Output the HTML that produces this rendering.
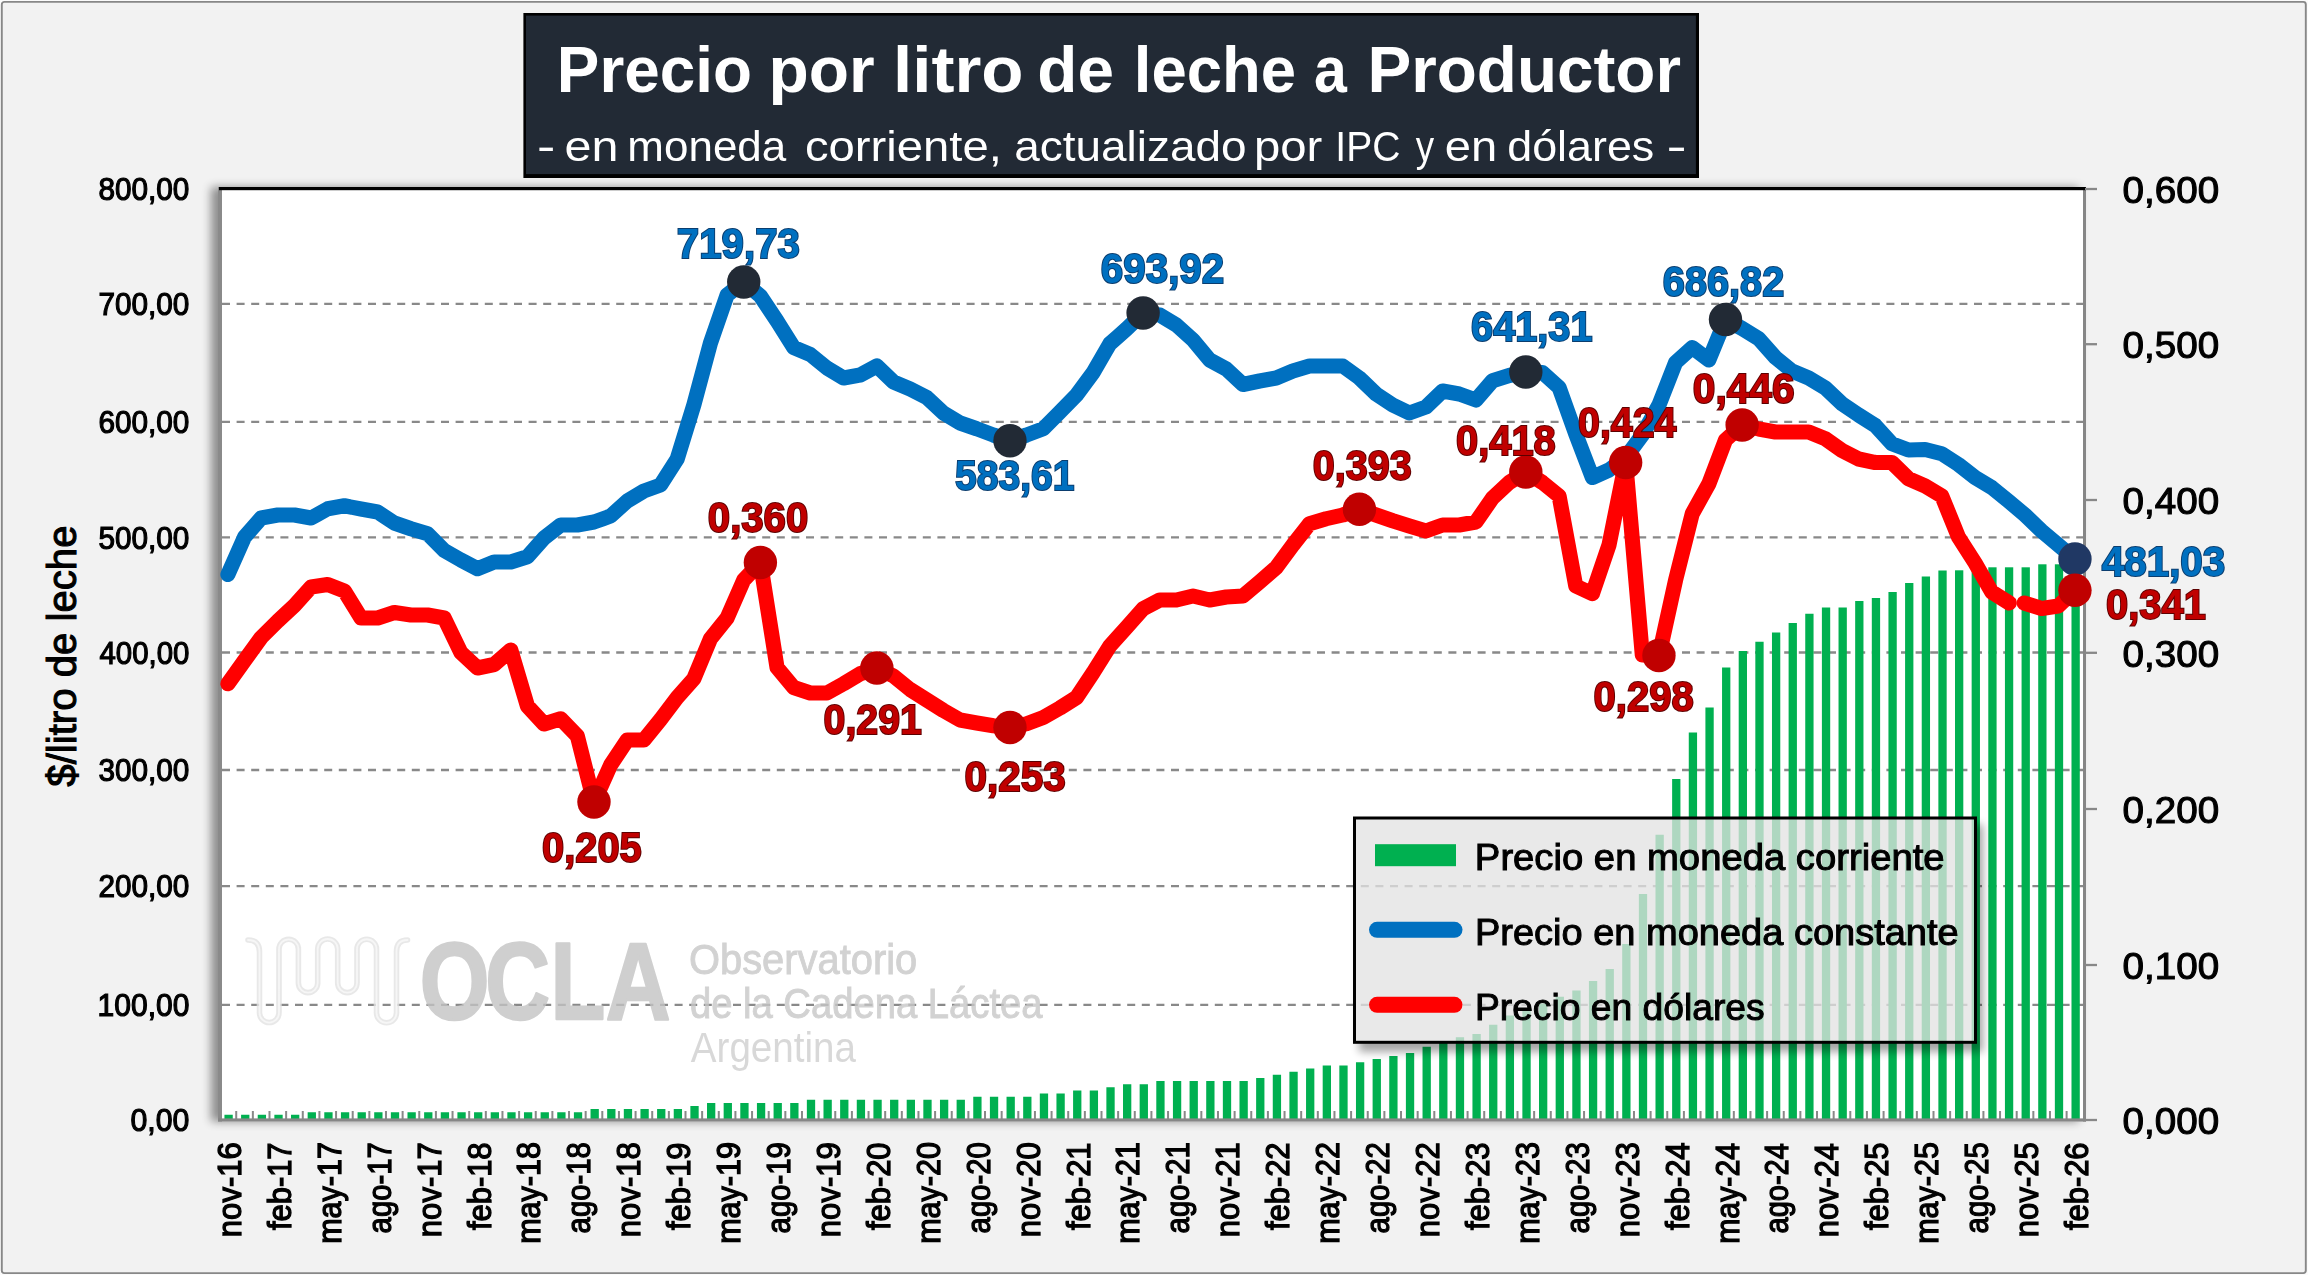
<!DOCTYPE html>
<html lang="es"><head><meta charset="utf-8"><title>Precio por litro de leche a Productor</title>
<style>html,body{margin:0;padding:0;background:#fff;}svg{display:block;}text{font-family:'Liberation Sans', sans-serif;}</style></head><body>
<svg width="2308" height="1275" viewBox="0 0 2308 1275">
<defs>
<filter id="plotsh" x="-5%" y="-5%" width="110%" height="110%"><feGaussianBlur in="SourceAlpha" stdDeviation="4.8"/><feOffset dx="-7.5" dy="0"/><feComponentTransfer><feFuncA type="linear" slope="0.42"/></feComponentTransfer></filter>
<filter id="legsh" x="-10%" y="-20%" width="120%" height="140%"><feGaussianBlur in="SourceAlpha" stdDeviation="4.5"/><feOffset dx="5.5" dy="8"/><feComponentTransfer><feFuncA type="linear" slope="0.36"/></feComponentTransfer></filter>
<clipPath id="legclip"><path clip-rule="evenodd" d="M1300,780H2040V1100H1300Z M1354.5,818V1042.3H1975.5V818Z"/></clipPath>
</defs>
<rect x="0" y="0" width="2308" height="1275" fill="#fbfbfb"/>
<rect x="1.8" y="1.9" width="2304" height="1271.2" rx="2.5" fill="#f2f2f2" stroke="#888888" stroke-width="1.9"/>
<rect x="218" y="187" width="1868" height="934.5" fill="#000" filter="url(#plotsh)"/>
<rect x="218" y="187" width="1868" height="934.5" fill="#ffffff"/>
<g stroke="#898989" stroke-width="2.3" stroke-dasharray="8 6.6" fill="none">
<line x1="222" y1="303.9" x2="2083" y2="303.9"/>
<line x1="222" y1="421.9" x2="2083" y2="421.9"/>
<line x1="222" y1="537.4" x2="2083" y2="537.4"/>
<line x1="222" y1="652.5" x2="2083" y2="652.5"/>
<line x1="222" y1="770.0" x2="2083" y2="770.0"/>
<line x1="222" y1="886.2" x2="2083" y2="886.2"/>
<line x1="222" y1="1004.9" x2="2083" y2="1004.9"/>
</g>
<g id="watermark" opacity="0.8">
<path d="M248,940 Q259.5,940 259.5,952 V1012.8 A9.75,9.75 0 0 0 279,1012.8 V949 A9.7,9.7 0 0 1 298.4,949 V983 A9.65,9.65 0 0 0 317.7,983 V949 A10,10 0 0 1 337.7,949 V983 A9.65,9.65 0 0 0 357,983 V949 A9.75,9.75 0 0 1 376.5,949 V1012.8 A10,10 0 0 0 396.5,1012.8 V952 Q396.5,940 407.5,940" fill="none" stroke="#e3e3e3" stroke-width="5.6" stroke-linecap="round"/>
<path d="M248,940 Q259.5,940 259.5,952 V1012.8 A9.75,9.75 0 0 0 279,1012.8 V949 A9.7,9.7 0 0 1 298.4,949 V983 A9.65,9.65 0 0 0 317.7,983 V949 A10,10 0 0 1 337.7,949 V983 A9.65,9.65 0 0 0 357,983 V949 A9.75,9.75 0 0 1 376.5,949 V1012.8 A10,10 0 0 0 396.5,1012.8 V952 Q396.5,940 407.5,940" fill="none" stroke="#f4f4f4" stroke-width="1.8" stroke-linecap="round"/>
<text transform="scale(0.82,1)" x="512 591.8 671.3 738.8" y="1019.5" font-size="109.4" font-weight="bold" fill="#c3c3c3" stroke="#c3c3c3" stroke-width="2.5" stroke-linejoin="round">OCLA</text>
<text x="688.93" y="974.00" font-size="42.7" font-weight="normal" textLength="228.35" lengthAdjust="spacingAndGlyphs" fill="#c7c7c7" stroke="#c7c7c7" stroke-width="0.9">Observatorio</text>
<text x="689.90" y="1018.00" font-size="42.7" font-weight="normal" textLength="352.68" lengthAdjust="spacingAndGlyphs" fill="#c7c7c7" stroke="#c7c7c7" stroke-width="0.9">de la Cadena Láctea</text>
<text x="690.80" y="1062.00" font-size="42.7" font-weight="normal" textLength="165.27" lengthAdjust="spacingAndGlyphs" fill="#cfcfcf">Argentina</text>
</g>
<g fill="#00b050">
<rect x="224.45" y="1114.75" width="8.30" height="4.25"/>
<rect x="241.09" y="1114.75" width="8.30" height="4.25"/>
<rect x="257.73" y="1114.75" width="8.30" height="4.25"/>
<rect x="274.37" y="1114.75" width="8.30" height="4.25"/>
<rect x="291.01" y="1114.75" width="8.30" height="4.25"/>
<rect x="307.65" y="1112.25" width="8.30" height="6.75"/>
<rect x="324.29" y="1112.25" width="8.30" height="6.75"/>
<rect x="340.93" y="1112.25" width="8.30" height="6.75"/>
<rect x="357.57" y="1112.25" width="8.30" height="6.75"/>
<rect x="374.21" y="1112.25" width="8.30" height="6.75"/>
<rect x="390.85" y="1112.25" width="8.30" height="6.75"/>
<rect x="407.49" y="1112.25" width="8.30" height="6.75"/>
<rect x="424.13" y="1112.25" width="8.30" height="6.75"/>
<rect x="440.77" y="1112.25" width="8.30" height="6.75"/>
<rect x="457.41" y="1112.25" width="8.30" height="6.75"/>
<rect x="474.05" y="1112.25" width="8.30" height="6.75"/>
<rect x="490.69" y="1112.25" width="8.30" height="6.75"/>
<rect x="507.33" y="1112.25" width="8.30" height="6.75"/>
<rect x="523.97" y="1112.25" width="8.30" height="6.75"/>
<rect x="540.61" y="1112.25" width="8.30" height="6.75"/>
<rect x="557.25" y="1112.25" width="8.30" height="6.75"/>
<rect x="573.89" y="1112.25" width="8.30" height="6.75"/>
<rect x="590.53" y="1109.00" width="8.30" height="10.00"/>
<rect x="607.17" y="1109.00" width="8.30" height="10.00"/>
<rect x="623.81" y="1109.00" width="8.30" height="10.00"/>
<rect x="640.45" y="1109.00" width="8.30" height="10.00"/>
<rect x="657.09" y="1109.00" width="8.30" height="10.00"/>
<rect x="673.73" y="1109.00" width="8.30" height="10.00"/>
<rect x="690.37" y="1106.00" width="8.30" height="13.00"/>
<rect x="707.01" y="1103.00" width="8.30" height="16.00"/>
<rect x="723.65" y="1103.00" width="8.30" height="16.00"/>
<rect x="740.29" y="1103.00" width="8.30" height="16.00"/>
<rect x="756.93" y="1103.00" width="8.30" height="16.00"/>
<rect x="773.57" y="1103.00" width="8.30" height="16.00"/>
<rect x="790.21" y="1103.00" width="8.30" height="16.00"/>
<rect x="806.85" y="1099.75" width="8.30" height="19.25"/>
<rect x="823.49" y="1099.75" width="8.30" height="19.25"/>
<rect x="840.13" y="1099.75" width="8.30" height="19.25"/>
<rect x="856.77" y="1099.75" width="8.30" height="19.25"/>
<rect x="873.41" y="1099.75" width="8.30" height="19.25"/>
<rect x="890.05" y="1099.75" width="8.30" height="19.25"/>
<rect x="906.69" y="1099.75" width="8.30" height="19.25"/>
<rect x="923.33" y="1099.75" width="8.30" height="19.25"/>
<rect x="939.97" y="1099.75" width="8.30" height="19.25"/>
<rect x="956.61" y="1099.75" width="8.30" height="19.25"/>
<rect x="973.25" y="1096.75" width="8.30" height="22.25"/>
<rect x="989.89" y="1096.75" width="8.30" height="22.25"/>
<rect x="1006.53" y="1096.75" width="8.30" height="22.25"/>
<rect x="1023.17" y="1096.75" width="8.30" height="22.25"/>
<rect x="1039.81" y="1093.50" width="8.30" height="25.50"/>
<rect x="1056.45" y="1093.50" width="8.30" height="25.50"/>
<rect x="1073.09" y="1090.50" width="8.30" height="28.50"/>
<rect x="1089.73" y="1090.50" width="8.30" height="28.50"/>
<rect x="1106.37" y="1087.25" width="8.30" height="31.75"/>
<rect x="1123.01" y="1084.25" width="8.30" height="34.75"/>
<rect x="1139.65" y="1084.25" width="8.30" height="34.75"/>
<rect x="1156.29" y="1081.00" width="8.30" height="38.00"/>
<rect x="1172.93" y="1081.00" width="8.30" height="38.00"/>
<rect x="1189.57" y="1081.00" width="8.30" height="38.00"/>
<rect x="1206.21" y="1081.00" width="8.30" height="38.00"/>
<rect x="1222.85" y="1081.00" width="8.30" height="38.00"/>
<rect x="1239.49" y="1081.00" width="8.30" height="38.00"/>
<rect x="1256.13" y="1078.00" width="8.30" height="41.00"/>
<rect x="1272.77" y="1074.75" width="8.30" height="44.25"/>
<rect x="1289.41" y="1071.75" width="8.30" height="47.25"/>
<rect x="1306.05" y="1068.50" width="8.30" height="50.50"/>
<rect x="1322.69" y="1065.50" width="8.30" height="53.50"/>
<rect x="1339.33" y="1065.50" width="8.30" height="53.50"/>
<rect x="1355.97" y="1062.25" width="8.30" height="56.75"/>
<rect x="1372.61" y="1059.00" width="8.30" height="60.00"/>
<rect x="1389.25" y="1056.00" width="8.30" height="63.00"/>
<rect x="1405.89" y="1053.00" width="8.30" height="66.00"/>
<rect x="1422.53" y="1046.75" width="8.30" height="72.25"/>
<rect x="1439.17" y="1041.00" width="8.30" height="78.00"/>
<rect x="1455.81" y="1037.25" width="8.30" height="81.75"/>
<rect x="1472.45" y="1034.00" width="8.30" height="85.00"/>
<rect x="1489.09" y="1024.75" width="8.30" height="94.25"/>
<rect x="1505.73" y="1015.50" width="8.30" height="103.50"/>
<rect x="1522.37" y="1010.00" width="8.30" height="109.00"/>
<rect x="1539.01" y="1003.50" width="8.30" height="115.50"/>
<rect x="1555.65" y="996.75" width="8.30" height="122.25"/>
<rect x="1572.29" y="990.50" width="8.30" height="128.50"/>
<rect x="1588.93" y="981.00" width="8.30" height="138.00"/>
<rect x="1605.57" y="969.00" width="8.30" height="150.00"/>
<rect x="1622.21" y="944.00" width="8.30" height="175.00"/>
<rect x="1638.85" y="894.00" width="8.30" height="225.00"/>
<rect x="1655.49" y="834.75" width="8.30" height="284.25"/>
<rect x="1672.13" y="779.00" width="8.30" height="340.00"/>
<rect x="1688.77" y="732.50" width="8.30" height="386.50"/>
<rect x="1705.41" y="707.50" width="8.30" height="411.50"/>
<rect x="1722.05" y="667.50" width="8.30" height="451.50"/>
<rect x="1738.69" y="651.00" width="8.30" height="468.00"/>
<rect x="1755.33" y="641.75" width="8.30" height="477.25"/>
<rect x="1771.97" y="632.50" width="8.30" height="486.50"/>
<rect x="1788.61" y="623.00" width="8.30" height="496.00"/>
<rect x="1805.25" y="613.75" width="8.30" height="505.25"/>
<rect x="1821.89" y="607.50" width="8.30" height="511.50"/>
<rect x="1838.53" y="607.50" width="8.30" height="511.50"/>
<rect x="1855.17" y="601.00" width="8.30" height="518.00"/>
<rect x="1871.81" y="598.00" width="8.30" height="521.00"/>
<rect x="1888.45" y="592.00" width="8.30" height="527.00"/>
<rect x="1905.09" y="583.00" width="8.30" height="536.00"/>
<rect x="1921.73" y="576.50" width="8.30" height="542.50"/>
<rect x="1938.37" y="570.50" width="8.30" height="548.50"/>
<rect x="1955.01" y="570.30" width="8.30" height="548.70"/>
<rect x="1971.65" y="567.30" width="8.30" height="551.70"/>
<rect x="1988.29" y="567.30" width="8.30" height="551.70"/>
<rect x="2004.93" y="567.30" width="8.30" height="551.70"/>
<rect x="2021.57" y="567.30" width="8.30" height="551.70"/>
<rect x="2038.21" y="564.30" width="8.30" height="554.70"/>
<rect x="2054.85" y="564.30" width="8.30" height="554.70"/>
<rect x="2071.49" y="562.00" width="8.30" height="557.00"/>
</g>
<g stroke="#888888" stroke-width="2" fill="none">
<path d="M236.22,1111V1119M252.86,1111V1119M269.50,1111V1119M286.14,1111V1119M302.78,1111V1119M319.42,1111V1119M336.06,1111V1119M352.70,1111V1119M369.34,1111V1119M385.98,1111V1119M402.62,1111V1119M419.26,1111V1119M435.90,1111V1119M452.54,1111V1119M469.18,1111V1119M485.82,1111V1119M502.46,1111V1119M519.10,1111V1119M535.74,1111V1119M552.38,1111V1119M569.02,1111V1119M585.66,1111V1119M602.30,1111V1119M618.94,1111V1119M635.58,1111V1119M652.22,1111V1119M668.86,1111V1119M685.50,1111V1119M702.14,1111V1119M718.78,1111V1119M735.42,1111V1119M752.06,1111V1119M768.70,1111V1119M785.34,1111V1119M801.98,1111V1119M818.62,1111V1119M835.26,1111V1119M851.90,1111V1119M868.54,1111V1119M885.18,1111V1119M901.82,1111V1119M918.46,1111V1119M935.10,1111V1119M951.74,1111V1119M968.38,1111V1119M985.02,1111V1119M1001.66,1111V1119M1018.30,1111V1119M1034.94,1111V1119M1051.58,1111V1119M1068.22,1111V1119M1084.86,1111V1119M1101.50,1111V1119M1118.14,1111V1119M1134.78,1111V1119M1151.42,1111V1119M1168.06,1111V1119M1184.70,1111V1119M1201.34,1111V1119M1217.98,1111V1119M1234.62,1111V1119M1251.26,1111V1119M1267.90,1111V1119M1284.54,1111V1119M1301.18,1111V1119M1317.82,1111V1119M1334.46,1111V1119M1351.10,1111V1119M1367.74,1111V1119M1384.38,1111V1119M1401.02,1111V1119M1417.66,1111V1119M1434.30,1111V1119M1450.94,1111V1119M1467.58,1111V1119M1484.22,1111V1119M1500.86,1111V1119M1517.50,1111V1119M1534.14,1111V1119M1550.78,1111V1119M1567.42,1111V1119M1584.06,1111V1119M1600.70,1111V1119M1617.34,1111V1119M1633.98,1111V1119M1650.62,1111V1119M1667.26,1111V1119M1683.90,1111V1119M1700.54,1111V1119M1717.18,1111V1119M1733.82,1111V1119M1750.46,1111V1119M1767.10,1111V1119M1783.74,1111V1119M1800.38,1111V1119M1817.02,1111V1119M1833.66,1111V1119M1850.30,1111V1119M1866.94,1111V1119M1883.58,1111V1119M1900.22,1111V1119M1916.86,1111V1119M1933.50,1111V1119M1950.14,1111V1119M1966.78,1111V1119M1983.42,1111V1119M2000.06,1111V1119M2016.70,1111V1119M2033.34,1111V1119M2049.98,1111V1119M2066.62,1111V1119"/>
</g>
<rect x="218" y="187" width="4" height="934.5" fill="#8a8a8a"/>
<rect x="2083" y="187" width="3" height="934.5" fill="#868686"/>
<rect x="218" y="1118.4" width="1868" height="3.2" fill="#868686"/>
<rect x="219" y="187" width="1867" height="3.2" fill="#000000"/>
<g stroke="#888888" stroke-width="2.3">
<line x1="2085" y1="189.0" x2="2097" y2="189.0"/>
<line x1="2085" y1="344.2" x2="2097" y2="344.2"/>
<line x1="2085" y1="500.0" x2="2097" y2="500.0"/>
<line x1="2085" y1="652.8" x2="2097" y2="652.8"/>
<line x1="2085" y1="809.0" x2="2097" y2="809.0"/>
<line x1="2085" y1="965.0" x2="2097" y2="965.0"/>
<line x1="2085" y1="1120.0" x2="2097" y2="1120.0"/>
</g>
<polyline points="227.90,574.50 244.54,537.00 261.18,518.00 277.82,515.00 294.46,515.00 311.10,518.00 327.74,508.75 344.38,505.75 361.02,509.00 377.66,512.00 394.30,523.00 410.94,528.75 427.58,533.75 444.22,550.50 460.86,560.00 477.50,568.75 494.14,562.00 510.78,562.00 527.42,556.75 544.06,538.00 560.70,525.00 577.34,525.00 593.98,522.00 610.62,516.00 627.26,501.00 643.90,491.00 660.54,485.00 677.18,459.00 693.82,405.00 710.46,343.00 727.10,295.00 743.74,282.00 760.38,296.00 777.02,321.00 793.66,347.50 810.30,354.50 826.94,368.00 843.58,378.00 860.22,375.00 876.86,366.00 893.50,382.00 910.14,389.00 926.78,397.50 943.42,413.00 960.06,423.00 976.70,428.75 993.34,435.00 1009.98,440.75 1026.62,435.00 1043.26,428.75 1059.90,412.00 1076.54,395.00 1093.18,372.50 1109.82,343.75 1126.46,329.00 1143.10,313.00 1159.74,315.00 1176.38,325.00 1193.02,340.00 1209.66,360.00 1226.30,369.00 1242.94,384.50 1259.58,381.00 1276.22,378.00 1292.86,371.00 1309.50,366.00 1326.14,366.00 1342.78,366.00 1359.42,378.00 1376.06,394.00 1392.70,405.00 1409.34,413.00 1425.98,407.00 1442.62,391.00 1459.26,394.00 1475.90,400.00 1492.54,380.75 1509.18,375.50 1525.82,372.00 1542.46,372.50 1559.10,387.50 1575.74,434.00 1592.38,477.50 1609.02,470.00 1625.66,457.50 1642.30,435.00 1658.94,405.00 1675.58,362.50 1692.22,347.50 1708.86,360.00 1725.50,319.50 1742.14,328.50 1758.78,338.75 1775.42,357.50 1792.06,371.00 1808.70,378.00 1825.34,388.00 1841.98,403.75 1858.62,415.00 1875.26,425.50 1891.90,443.75 1908.54,450.00 1925.18,449.50 1941.82,453.75 1958.46,464.50 1975.10,477.50 1991.74,487.50 2008.38,501.00 2025.02,515.00 2041.66,531.00 2058.30,545.00 2074.94,559.00" fill="none" stroke="#0070c0" stroke-width="15.1" stroke-linejoin="round" stroke-linecap="round"/>
<polyline points="227.90,683.75 244.54,660.50 261.18,637.50 277.82,621.00 294.46,605.50 311.10,587.00 327.74,584.50 344.38,591.00 361.02,618.00 377.66,618.00 394.30,612.50 410.94,615.00 427.58,615.00 444.22,618.00 460.86,652.50 477.50,668.00 494.14,664.50 510.78,650.00 527.42,706.00 544.06,724.00 560.70,718.75 577.34,736.00 593.98,802.00 610.62,765.00 627.26,740.00 643.90,740.00 660.54,719.50 677.18,697.50 693.82,678.75 710.46,638.75 727.10,618.00 743.74,580.00 760.38,562.50 777.02,667.50 793.66,687.50 810.30,693.00 826.94,693.00 843.58,683.75 860.22,673.75 876.86,668.00 893.50,676.00 910.14,689.50 926.78,700.00 943.42,710.50 960.06,720.00 976.70,723.00 993.34,725.75 1009.98,727.50 1026.62,723.75 1043.26,717.50 1059.90,708.00 1076.54,697.50 1093.18,672.50 1109.82,646.00 1126.46,627.50 1143.10,608.75 1159.74,600.00 1176.38,600.00 1193.02,596.00 1209.66,600.00 1226.30,597.00 1242.94,596.00 1259.58,582.00 1276.22,567.50 1292.86,545.00 1309.50,523.75 1326.14,518.75 1342.78,515.00 1359.42,509.25 1376.06,515.00 1392.70,520.75 1409.34,526.00 1425.98,531.00 1442.62,525.00 1459.26,525.00 1475.90,522.00 1492.54,498.00 1509.18,482.50 1525.82,472.00 1542.46,482.50 1559.10,496.00 1575.74,586.00 1592.38,593.75 1609.02,545.00 1625.66,462.50 1642.30,655.00 1658.94,655.50 1675.58,580.00 1692.22,513.75 1708.86,483.75 1725.50,440.00 1742.14,425.00 1758.78,429.00 1775.42,432.00 1792.06,432.00 1808.70,432.00 1825.34,438.75 1841.98,450.50 1858.62,459.00 1875.26,462.50 1891.90,462.50 1908.54,478.75 1925.18,486.00 1941.82,496.00 1958.46,537.00 1975.10,563.00 1991.74,592.00 2009.28,603.00" fill="none" stroke="#ff0000" stroke-width="15.1" stroke-linejoin="round" stroke-linecap="round"/>
<polyline points="2024.12,603.00 2041.66,608.50 2058.30,606.00 2074.94,590.30" fill="none" stroke="#ff0000" stroke-width="15.1" stroke-linejoin="round" stroke-linecap="round"/>
<circle cx="743.74" cy="282.00" r="16.7" fill="#222a35"/>
<circle cx="1009.98" cy="440.75" r="16.7" fill="#222a35"/>
<circle cx="1143.10" cy="313.00" r="16.7" fill="#222a35"/>
<circle cx="1525.82" cy="372.00" r="16.7" fill="#222a35"/>
<circle cx="1725.50" cy="319.50" r="16.7" fill="#222a35"/>
<circle cx="2074.94" cy="559.00" r="16.7" fill="#203864"/>
<circle cx="593.98" cy="802.00" r="16.7" fill="#c00000"/>
<circle cx="760.38" cy="562.50" r="16.7" fill="#c00000"/>
<circle cx="876.86" cy="668.00" r="16.7" fill="#c00000"/>
<circle cx="1009.98" cy="727.50" r="16.7" fill="#c00000"/>
<circle cx="1359.42" cy="509.25" r="16.7" fill="#c00000"/>
<circle cx="1525.82" cy="472.00" r="16.7" fill="#c00000"/>
<circle cx="1625.66" cy="462.50" r="16.7" fill="#c00000"/>
<circle cx="1658.94" cy="655.50" r="16.7" fill="#c00000"/>
<circle cx="1742.14" cy="425.00" r="16.7" fill="#c00000"/>
<circle cx="2074.94" cy="590.30" r="16.7" fill="#c00000"/>
<g fill="#0070c0" stroke="#0b3d6e" stroke-width="2" paint-order="stroke">
<text x="676.86" y="258.20" font-size="42.7" font-weight="bold" textLength="123.09" lengthAdjust="spacingAndGlyphs" >719,73</text>
<text x="1100.86" y="283.30" font-size="42.7" font-weight="bold" textLength="123.39" lengthAdjust="spacingAndGlyphs" >693,92</text>
<text x="955.00" y="489.50" font-size="42.7" font-weight="bold" textLength="119.53" lengthAdjust="spacingAndGlyphs" >583,61</text>
<text x="1471.07" y="340.50" font-size="42.7" font-weight="bold" textLength="121.47" lengthAdjust="spacingAndGlyphs" >641,31</text>
<text x="1662.82" y="295.50" font-size="42.7" font-weight="bold" textLength="121.47" lengthAdjust="spacingAndGlyphs" >686,82</text>
<text x="2101.70" y="576.30" font-size="42.7" font-weight="bold" textLength="123.65" lengthAdjust="spacingAndGlyphs" >481,03</text>
</g>
<g fill="#c00000" stroke="#5c0000" stroke-width="2" paint-order="stroke">
<text x="707.81" y="532.00" font-size="42.7" font-weight="bold" textLength="100.47" lengthAdjust="spacingAndGlyphs" >0,360</text>
<text x="542.07" y="862.00" font-size="42.7" font-weight="bold" textLength="99.71" lengthAdjust="spacingAndGlyphs" >0,205</text>
<text x="823.58" y="733.75" font-size="42.7" font-weight="bold" textLength="98.26" lengthAdjust="spacingAndGlyphs" >0,291</text>
<text x="964.55" y="791.00" font-size="42.7" font-weight="bold" textLength="101.23" lengthAdjust="spacingAndGlyphs" >0,253</text>
<text x="1312.82" y="479.50" font-size="42.7" font-weight="bold" textLength="98.94" lengthAdjust="spacingAndGlyphs" >0,393</text>
<text x="1456.07" y="455.00" font-size="42.7" font-weight="bold" textLength="99.71" lengthAdjust="spacingAndGlyphs" >0,418</text>
<text x="1578.08" y="437.00" font-size="42.7" font-weight="bold" textLength="98.34" lengthAdjust="spacingAndGlyphs" >0,424</text>
<text x="1692.80" y="402.50" font-size="42.7" font-weight="bold" textLength="101.74" lengthAdjust="spacingAndGlyphs" >0,446</text>
<text x="1593.56" y="711.00" font-size="42.7" font-weight="bold" textLength="100.21" lengthAdjust="spacingAndGlyphs" >0,298</text>
<text x="2105.97" y="619.00" font-size="42.7" font-weight="bold" textLength="99.87" lengthAdjust="spacingAndGlyphs" >0,341</text>
</g>
<g clip-path="url(#legclip)"><rect x="1353" y="816.5" width="624" height="227.3" fill="#000" filter="url(#legsh)"/></g>
<rect x="1354.5" y="818" width="621" height="224.3" fill="#e3e3e3" fill-opacity="0.77" stroke="#000" stroke-width="3"/>
<rect x="1375" y="844.2" width="81" height="22" fill="#00b050"/>
<line x1="1377" y1="929.8" x2="1454.5" y2="929.8" stroke="#0070c0" stroke-width="16" stroke-linecap="round"/>
<line x1="1377" y1="1004.8" x2="1454.5" y2="1004.8" stroke="#ff0000" stroke-width="16" stroke-linecap="round"/>
<g fill="#000" stroke="#000" stroke-width="1.0">
<text x="1474.89" y="869.80" font-size="36.2" font-weight="normal" textLength="469.71" lengthAdjust="spacingAndGlyphs" >Precio en moneda corriente</text>
<text x="1474.90" y="944.80" font-size="36.2" font-weight="normal" textLength="483.82" lengthAdjust="spacingAndGlyphs" >Precio en moneda constante</text>
<text x="1474.94" y="1019.80" font-size="36.2" font-weight="normal" textLength="289.70" lengthAdjust="spacingAndGlyphs" >Precio en dólares</text>
</g>
<rect x="523.4" y="13" width="1175.6" height="165" fill="#000"/>
<rect x="526" y="15.6" width="1169.9" height="158.5" fill="#222a35"/>
<g fill="#fff">
<text x="556.83" y="91.80" font-size="64.3" font-weight="bold" textLength="195.03" lengthAdjust="spacingAndGlyphs" >Precio</text>
<text x="768.50" y="91.80" font-size="64.3" font-weight="bold" textLength="106.09" lengthAdjust="spacingAndGlyphs" >por</text>
<text x="893.10" y="91.80" font-size="64.3" font-weight="bold" textLength="130.41" lengthAdjust="spacingAndGlyphs" >litro</text>
<text x="1037.34" y="91.80" font-size="64.3" font-weight="bold" textLength="76.66" lengthAdjust="spacingAndGlyphs" >de</text>
<text x="1133.75" y="91.80" font-size="64.3" font-weight="bold" textLength="162.34" lengthAdjust="spacingAndGlyphs" >leche</text>
<text x="1313.96" y="91.80" font-size="64.3" font-weight="bold" textLength="32.82" lengthAdjust="spacingAndGlyphs" >a</text>
<text x="1367.52" y="91.80" font-size="64.3" font-weight="bold" textLength="313.41" lengthAdjust="spacingAndGlyphs" >Productor</text>
</g>
<g fill="#fff">
<text x="536.90" y="161.20" font-size="42.3" font-weight="normal" textLength="18.32" lengthAdjust="spacingAndGlyphs" >-</text>
<text x="564.51" y="161.20" font-size="42.3" font-weight="normal" textLength="53.90" lengthAdjust="spacingAndGlyphs" >en</text>
<text x="627.38" y="161.20" font-size="42.3" font-weight="normal" textLength="158.87" lengthAdjust="spacingAndGlyphs" >moneda</text>
<text x="804.97" y="161.20" font-size="42.3" font-weight="normal" textLength="196.87" lengthAdjust="spacingAndGlyphs" >corriente,</text>
<text x="1014.33" y="161.20" font-size="42.3" font-weight="normal" textLength="232.12" lengthAdjust="spacingAndGlyphs" >actualizado</text>
<text x="1253.95" y="161.20" font-size="42.3" font-weight="normal" textLength="68.33" lengthAdjust="spacingAndGlyphs" >por</text>
<text x="1335.31" y="161.20" font-size="42.3" font-weight="normal" textLength="65.09" lengthAdjust="spacingAndGlyphs" >IPC</text>
<text x="1415.80" y="161.20" font-size="42.3" font-weight="normal" textLength="18.34" lengthAdjust="spacingAndGlyphs" >y</text>
<text x="1444.77" y="161.20" font-size="42.3" font-weight="normal" textLength="52.44" lengthAdjust="spacingAndGlyphs" >en</text>
<text x="1507.28" y="161.20" font-size="42.3" font-weight="normal" textLength="146.96" lengthAdjust="spacingAndGlyphs" >dólares</text>
<text x="1666.44" y="161.20" font-size="42.3" font-weight="normal" textLength="20.15" lengthAdjust="spacingAndGlyphs" >-</text>
</g>
<g fill="#000" stroke="#000" stroke-width="1.2">
<text x="98.56" y="199.60" font-size="31.6" font-weight="normal" textLength="90.84" lengthAdjust="spacingAndGlyphs" >800,00</text>
<text x="98.56" y="315.10" font-size="31.6" font-weight="normal" textLength="90.84" lengthAdjust="spacingAndGlyphs" >700,00</text>
<text x="98.56" y="433.10" font-size="31.6" font-weight="normal" textLength="90.84" lengthAdjust="spacingAndGlyphs" >600,00</text>
<text x="98.56" y="548.60" font-size="31.6" font-weight="normal" textLength="90.84" lengthAdjust="spacingAndGlyphs" >500,00</text>
<text x="99.50" y="663.70" font-size="31.6" font-weight="normal" textLength="89.90" lengthAdjust="spacingAndGlyphs" >400,00</text>
<text x="98.56" y="781.20" font-size="31.6" font-weight="normal" textLength="90.84" lengthAdjust="spacingAndGlyphs" >300,00</text>
<text x="98.56" y="897.40" font-size="31.6" font-weight="normal" textLength="90.84" lengthAdjust="spacingAndGlyphs" >200,00</text>
<text x="97.60" y="1016.10" font-size="31.6" font-weight="normal" textLength="91.81" lengthAdjust="spacingAndGlyphs" >100,00</text>
<text x="130.44" y="1131.20" font-size="31.6" font-weight="normal" textLength="58.84" lengthAdjust="spacingAndGlyphs" >0,00</text>
</g>
<g fill="#000" stroke="#000" stroke-width="1.1">
<text x="2122.57" y="203.20" font-size="37.5" font-weight="normal" textLength="96.60" lengthAdjust="spacingAndGlyphs" >0,600</text>
<text x="2122.57" y="358.45" font-size="37.5" font-weight="normal" textLength="96.60" lengthAdjust="spacingAndGlyphs" >0,500</text>
<text x="2122.57" y="514.20" font-size="37.5" font-weight="normal" textLength="96.60" lengthAdjust="spacingAndGlyphs" >0,400</text>
<text x="2122.57" y="667.00" font-size="37.5" font-weight="normal" textLength="96.60" lengthAdjust="spacingAndGlyphs" >0,300</text>
<text x="2122.57" y="823.20" font-size="37.5" font-weight="normal" textLength="96.60" lengthAdjust="spacingAndGlyphs" >0,200</text>
<text x="2122.57" y="979.20" font-size="37.5" font-weight="normal" textLength="96.60" lengthAdjust="spacingAndGlyphs" >0,100</text>
<text x="2122.57" y="1134.20" font-size="37.5" font-weight="normal" textLength="96.60" lengthAdjust="spacingAndGlyphs" >0,000</text>
</g>
<text transform="translate(76.00,786.70) rotate(-90)" x="-0.00" y="0" font-size="40" font-weight="normal" textLength="261.16" lengthAdjust="spacingAndGlyphs" fill="#000" stroke="#000" stroke-width="1.1">$/litro de leche</text>
<g fill="#000" stroke="#000" stroke-width="1.3">
<text transform="translate(240.90,1235.30) rotate(-90)" x="-1.88" y="0" font-size="33" font-weight="normal" textLength="95.04" lengthAdjust="spacingAndGlyphs" >nov-16</text>
<text transform="translate(290.82,1230.00) rotate(-90)" x="-0.00" y="0" font-size="33" font-weight="normal" textLength="87.54" lengthAdjust="spacingAndGlyphs" >feb-17</text>
<text transform="translate(340.74,1242.00) rotate(-90)" x="-1.85" y="0" font-size="33" font-weight="normal" textLength="101.82" lengthAdjust="spacingAndGlyphs" >may-17</text>
<text transform="translate(390.66,1232.50) rotate(-90)" x="-0.89" y="0" font-size="33" font-weight="normal" textLength="91.06" lengthAdjust="spacingAndGlyphs" >ago-17</text>
<text transform="translate(440.58,1235.30) rotate(-90)" x="-1.88" y="0" font-size="33" font-weight="normal" textLength="95.04" lengthAdjust="spacingAndGlyphs" >nov-17</text>
<text transform="translate(490.50,1230.00) rotate(-90)" x="-0.00" y="0" font-size="33" font-weight="normal" textLength="87.54" lengthAdjust="spacingAndGlyphs" >feb-18</text>
<text transform="translate(540.42,1242.00) rotate(-90)" x="-1.85" y="0" font-size="33" font-weight="normal" textLength="101.82" lengthAdjust="spacingAndGlyphs" >may-18</text>
<text transform="translate(590.34,1232.50) rotate(-90)" x="-0.89" y="0" font-size="33" font-weight="normal" textLength="91.06" lengthAdjust="spacingAndGlyphs" >ago-18</text>
<text transform="translate(640.26,1235.30) rotate(-90)" x="-1.88" y="0" font-size="33" font-weight="normal" textLength="95.04" lengthAdjust="spacingAndGlyphs" >nov-18</text>
<text transform="translate(690.18,1230.00) rotate(-90)" x="-0.00" y="0" font-size="33" font-weight="normal" textLength="87.54" lengthAdjust="spacingAndGlyphs" >feb-19</text>
<text transform="translate(740.10,1242.00) rotate(-90)" x="-1.85" y="0" font-size="33" font-weight="normal" textLength="101.82" lengthAdjust="spacingAndGlyphs" >may-19</text>
<text transform="translate(790.02,1232.50) rotate(-90)" x="-0.89" y="0" font-size="33" font-weight="normal" textLength="91.06" lengthAdjust="spacingAndGlyphs" >ago-19</text>
<text transform="translate(839.94,1235.30) rotate(-90)" x="-1.88" y="0" font-size="33" font-weight="normal" textLength="95.04" lengthAdjust="spacingAndGlyphs" >nov-19</text>
<text transform="translate(889.86,1230.00) rotate(-90)" x="-0.00" y="0" font-size="33" font-weight="normal" textLength="87.54" lengthAdjust="spacingAndGlyphs" >feb-20</text>
<text transform="translate(939.78,1242.00) rotate(-90)" x="-1.85" y="0" font-size="33" font-weight="normal" textLength="101.82" lengthAdjust="spacingAndGlyphs" >may-20</text>
<text transform="translate(989.70,1232.50) rotate(-90)" x="-0.89" y="0" font-size="33" font-weight="normal" textLength="91.06" lengthAdjust="spacingAndGlyphs" >ago-20</text>
<text transform="translate(1039.62,1235.30) rotate(-90)" x="-1.88" y="0" font-size="33" font-weight="normal" textLength="95.04" lengthAdjust="spacingAndGlyphs" >nov-20</text>
<text transform="translate(1089.54,1230.00) rotate(-90)" x="-0.00" y="0" font-size="33" font-weight="normal" textLength="87.54" lengthAdjust="spacingAndGlyphs" >feb-21</text>
<text transform="translate(1139.46,1242.00) rotate(-90)" x="-1.85" y="0" font-size="33" font-weight="normal" textLength="101.82" lengthAdjust="spacingAndGlyphs" >may-21</text>
<text transform="translate(1189.38,1232.50) rotate(-90)" x="-0.89" y="0" font-size="33" font-weight="normal" textLength="91.06" lengthAdjust="spacingAndGlyphs" >ago-21</text>
<text transform="translate(1239.30,1235.30) rotate(-90)" x="-1.88" y="0" font-size="33" font-weight="normal" textLength="95.04" lengthAdjust="spacingAndGlyphs" >nov-21</text>
<text transform="translate(1289.22,1230.00) rotate(-90)" x="-0.00" y="0" font-size="33" font-weight="normal" textLength="87.54" lengthAdjust="spacingAndGlyphs" >feb-22</text>
<text transform="translate(1339.14,1242.00) rotate(-90)" x="-1.85" y="0" font-size="33" font-weight="normal" textLength="101.82" lengthAdjust="spacingAndGlyphs" >may-22</text>
<text transform="translate(1389.06,1232.50) rotate(-90)" x="-0.89" y="0" font-size="33" font-weight="normal" textLength="91.06" lengthAdjust="spacingAndGlyphs" >ago-22</text>
<text transform="translate(1438.98,1235.30) rotate(-90)" x="-1.88" y="0" font-size="33" font-weight="normal" textLength="95.04" lengthAdjust="spacingAndGlyphs" >nov-22</text>
<text transform="translate(1488.90,1230.00) rotate(-90)" x="-0.00" y="0" font-size="33" font-weight="normal" textLength="87.54" lengthAdjust="spacingAndGlyphs" >feb-23</text>
<text transform="translate(1538.82,1242.00) rotate(-90)" x="-1.85" y="0" font-size="33" font-weight="normal" textLength="101.82" lengthAdjust="spacingAndGlyphs" >may-23</text>
<text transform="translate(1588.74,1232.50) rotate(-90)" x="-0.89" y="0" font-size="33" font-weight="normal" textLength="91.06" lengthAdjust="spacingAndGlyphs" >ago-23</text>
<text transform="translate(1638.66,1235.30) rotate(-90)" x="-1.88" y="0" font-size="33" font-weight="normal" textLength="95.04" lengthAdjust="spacingAndGlyphs" >nov-23</text>
<text transform="translate(1688.58,1230.00) rotate(-90)" x="-0.00" y="0" font-size="33" font-weight="normal" textLength="87.54" lengthAdjust="spacingAndGlyphs" >feb-24</text>
<text transform="translate(1738.50,1242.00) rotate(-90)" x="-1.83" y="0" font-size="33" font-weight="normal" textLength="100.88" lengthAdjust="spacingAndGlyphs" >may-24</text>
<text transform="translate(1788.42,1232.50) rotate(-90)" x="-0.88" y="0" font-size="33" font-weight="normal" textLength="90.17" lengthAdjust="spacingAndGlyphs" >ago-24</text>
<text transform="translate(1838.34,1235.30) rotate(-90)" x="-1.86" y="0" font-size="33" font-weight="normal" textLength="94.08" lengthAdjust="spacingAndGlyphs" >nov-24</text>
<text transform="translate(1888.26,1230.00) rotate(-90)" x="-0.00" y="0" font-size="33" font-weight="normal" textLength="87.54" lengthAdjust="spacingAndGlyphs" >feb-25</text>
<text transform="translate(1938.18,1242.00) rotate(-90)" x="-1.85" y="0" font-size="33" font-weight="normal" textLength="101.82" lengthAdjust="spacingAndGlyphs" >may-25</text>
<text transform="translate(1988.10,1232.50) rotate(-90)" x="-0.89" y="0" font-size="33" font-weight="normal" textLength="91.06" lengthAdjust="spacingAndGlyphs" >ago-25</text>
<text transform="translate(2038.02,1235.30) rotate(-90)" x="-1.88" y="0" font-size="33" font-weight="normal" textLength="95.04" lengthAdjust="spacingAndGlyphs" >nov-25</text>
<text transform="translate(2087.94,1230.00) rotate(-90)" x="-0.00" y="0" font-size="33" font-weight="normal" textLength="87.54" lengthAdjust="spacingAndGlyphs" >feb-26</text>
</g>
</svg></body></html>
